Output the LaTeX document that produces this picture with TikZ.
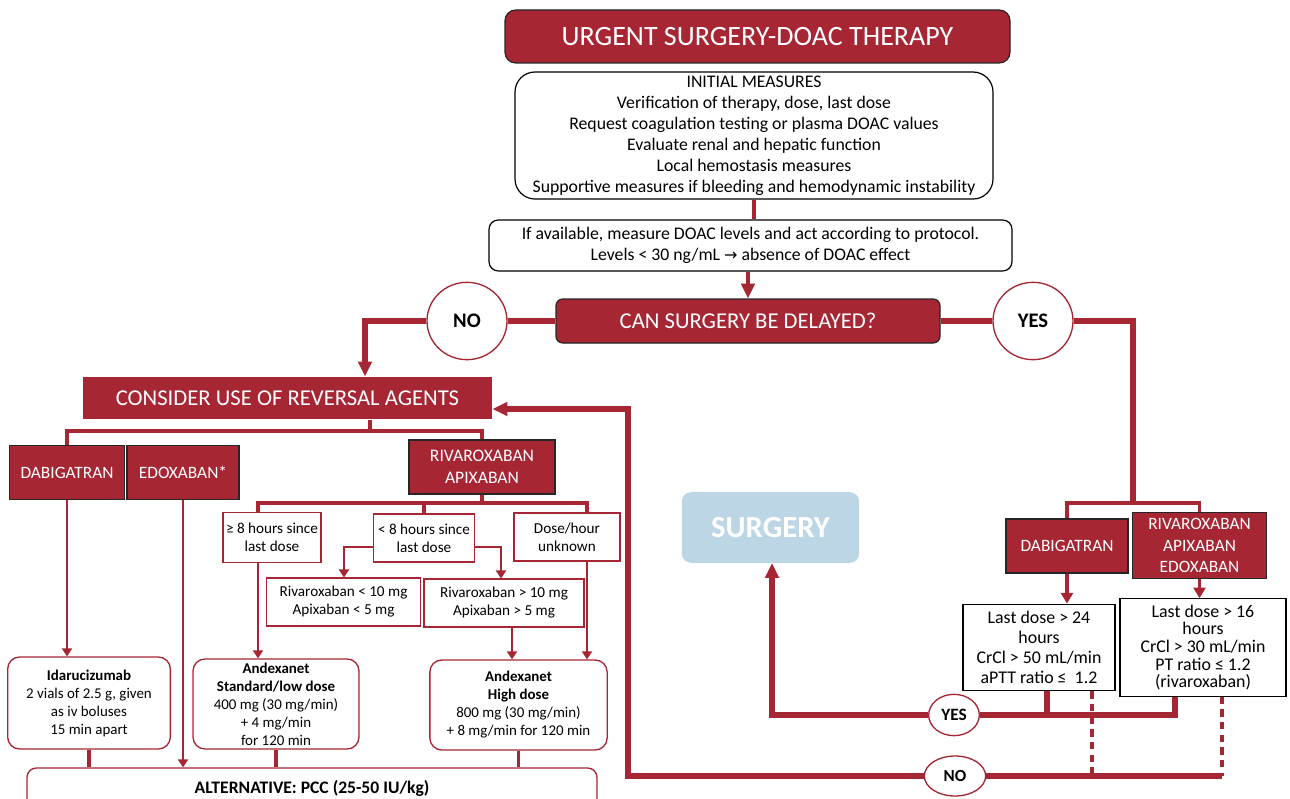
\documentclass[tikz,border=0pt]{standalone}
\usepackage{fontspec}
\setmainfont{Carlito}
\newfontfamily\symfont{DejaVu Sans}
\usetikzlibrary{arrows.meta,shapes.geometric}
\definecolor{wine}{RGB}{166,38,52}
\definecolor{paleblue}{RGB}{189,214,230}
\tikzset{
    redbox/.style={rectangle, draw=black!85, line width=0.9pt, fill=wine, text=white,
      align=center, inner sep=0pt},
    whitebox/.style={rectangle, draw=black, line width=0.9pt, fill=white, align=center,
      inner sep=0pt},
    smallbox/.style={rectangle, draw=wine, line width=0.8pt, fill=white, align=center,
      inner sep=0pt, font=\fontsize{11.4}{13.5}\selectfont},
    dosebox/.style={smallbox, rounded corners=9pt, line width=1pt,
      font=\fontsize{11.2}{13.5}\selectfont},
    answer/.style={ellipse, draw=wine, line width=1pt, fill=white, inner sep=0pt},
    bigline/.style={draw=wine, line width=4pt},
    branch/.style={draw=wine, line width=2.7pt},
    pointer/.style={draw=wine, line width=1.9pt, -{Triangle[length=6pt,width=7.5pt]}},
    dotline/.style={draw=wine, line width=3.6pt, dash pattern=on 5.5pt off 4pt},
}
\begin{document}
\begin{tikzpicture}[x=0.75pt,y=-0.75pt]
\useasboundingbox (0,0) rectangle (1290,799);
% top part
\node[redbox, rounded corners=8pt, minimum width=378.75, minimum height=39.75,
    font=\fontsize{21}{24}\selectfont] (title) at (757.5,36.5) {URGENT SURGERY-DOAC THERAPY};
\node[whitebox, rounded corners=15pt, minimum width=358.5, minimum height=95.25,
    font=\fontsize{13.3}{15.8}\selectfont] (initial) at (754,135.5)
    {INITIAL MEASURES\\Verification of therapy, dose, last dose\\Request coagulation testing or plasma DOAC values\\Evaluate renal and hepatic function\\Local hemostasis measures\\Supportive measures if bleeding and hemodynamic instability};
\node[whitebox, rounded corners=7pt, minimum width=392.25, minimum height=38.25,
    font=\fontsize{13.3}{15.8}\selectfont] (measure) at (750.5,245.5)
    {If available, measure DOAC levels and act according to protocol.\\Levels < 30 ng/mL {\symfont\fontsize{12}{12}\selectfont →} absence of DOAC effect};
\node[redbox, rounded corners=5pt, minimum width=288, minimum height=33,
    font=\fontsize{17}{20}\selectfont] (delay) at (748,321) {CAN SURGERY BE DELAYED?};
\node[answer, minimum width=60, minimum height=58, font=\bfseries\fontsize{15.5}{18}\selectfont]
    (noA) at (467,321) {NO};
\node[answer, minimum width=60, minimum height=58, font=\bfseries\fontsize{15.5}{18}\selectfont]
    (yesA) at (1033,321) {YES};

% reversal agents
\node[redbox, draw=none, minimum width=306.75, minimum height=31.5,
    font=\fontsize{17}{20}\selectfont] (consider) at (287.5,398) {CONSIDER USE OF REVERSAL AGENTS};
\node[redbox, minimum width=86, minimum height=41, font=\fontsize{13}{16}\selectfont]
    (dabL) at (67,472.5) {DABIGATRAN};
\node[redbox, minimum width=84, minimum height=41, font=\fontsize{13}{16}\selectfont]
    (edoL) at (183,472.5) {EDOXABAN*};
\node[redbox, minimum width=109.5, minimum height=40.5, font=\fontsize{13.2}{16.3}\selectfont]
    (rivL) at (482,467) {RIVAROXABAN\\APIXABAN};
\node[smallbox, minimum width=73.5, minimum height=37] (ge8) at (272,537.5) {≥ 8 hours since\\last dose};
\node[smallbox, minimum width=76, minimum height=36] (lt8) at (424,538) {< 8 hours since\\last dose};
\node[smallbox, minimum width=79.5, minimum height=36] (unk) at (567,537) {Dose/hour\\unknown};
\node[smallbox, minimum width=116, minimum height=36] (rivlo) at (343.5,602) {Rivaroxaban < 10 mg\\Apixaban < 5 mg};
\node[smallbox, minimum width=120, minimum height=36] (rivhi) at (504,603) {Rivaroxaban > 10 mg\\Apixaban > 5 mg};
\node[dosebox, minimum width=122, minimum height=69] (ida) at (89,703)
    {\textbf{Idarucizumab}\\2 vials of 2.5 g, given\\as iv boluses\\15 min apart};
\node[dosebox, minimum width=124.5, minimum height=67.5] (andstd) at (276,704)
    {\textbf{Andexanet}\\\textbf{Standard/low dose}\\400 mg (30 mg/min)\\+ 4 mg/min\\for 120 min};
\node[dosebox, minimum width=133, minimum height=67.5] (andhi) at (518.5,705)
    {\textbf{Andexanet}\\\textbf{High dose}\\800 mg (30 mg/min)\\+ 8 mg/min for 120 min};
\node[dosebox, rounded corners=7pt, minimum width=427.5, minimum height=30,
    font=\bfseries\fontsize{13.2}{16}\selectfont] (alt) at (312,788) {ALTERNATIVE: PCC (25-50 IU/kg)};

% delayed surgery
\node[rectangle, rounded corners=7pt, fill=paleblue, text=white, minimum width=133,
    minimum height=53, font=\bfseries\fontsize{23}{26}\selectfont] (surgery) at (770.5,527.5) {SURGERY};
\node[redbox, minimum width=91.5, minimum height=40.5, font=\fontsize{13}{16}\selectfont]
    (dabR) at (1067,546) {DABIGATRAN};
\node[redbox, minimum width=101, minimum height=49, font=\fontsize{13}{16.3}\selectfont]
    (rivR) at (1199.5,545.5) {RIVAROXABAN\\APIXABAN\\EDOXABAN};
\node[whitebox, minimum width=114, minimum height=65, font=\fontsize{13.4}{15}\selectfont]
    (critD) at (1039,647.5) {Last dose > 24\\hours\\CrCl > 50 mL/min\\aPTT ratio ≤~ 1.2};
\node[whitebox, minimum width=124.5, minimum height=73, font=\fontsize{13.4}{13.3}\selectfont]
    (critR) at (1203,647.5) {Last dose > 16\\hours\\CrCl > 30 mL/min\\PT ratio ≤ 1.2\\(rivaroxaban)};
\node[answer, minimum width=38, minimum height=31, font=\bfseries\fontsize{13}{15}\selectfont]
    (yesB) at (954,715) {YES};
\node[answer, minimum width=46, minimum height=30, font=\bfseries\fontsize{12.7}{15}\selectfont]
    (noB) at (955,776) {NO};

% bend points
\coordinate (kNo) at (365,321);
\coordinate (kYes) at (1133,503);
\coordinate (kRev) at (370,431);
\coordinate (kGe) at (258,503);
\coordinate (kUnk) at (587,503);
\coordinate (kLo) at (344,547);
\coordinate (kHi) at (501,547);
\coordinate (kHd) at (512,640);
\coordinate (kBack) at (628,409);
\coordinate (kNoD) at (1092,776);
\coordinate (kNoR) at (1222,776);
\coordinate (kYesD) at (1047,715);
\coordinate (kYesR) at (1175,715);
\coordinate (kSurg) at (772,715);

% connectors
\draw[branch] (initial.south) -- (initial.south |- measure.north);
\draw[branch, -{Triangle[length=11pt,width=10pt]}] (measure.south -| delay.north) -- (delay.north);
\draw[bigline] (delay.west) -- (noA.east);
\draw[bigline] (delay.east) -- (yesA.west);
\draw[bigline, -{Triangle[length=11pt,width=10pt]}] (noA.west) -- (kNo) -- (kNo |- consider.north);
\draw[bigline] (yesA.east) -| (kYes);
\draw[branch] (dabR.north) |- (kYes) -| (rivR.north);

\draw[branch] (consider.south -| kRev) -- (kRev);
\draw[branch] (dabL.north) |- (kRev) -| (rivL.north);
\draw[branch] (rivL.south) -- (rivL.south |- kGe);
\draw[branch] (kGe |- ge8.north) -- (kGe) -- (kUnk) -- (kUnk |- unk.north);
\draw[branch] (lt8.north) -- (lt8.north |- kGe);
\draw[pointer] (lt8.west |- kLo) -- (kLo) -- (kLo |- rivlo.north);
\draw[pointer] (lt8.east |- kHi) -- (kHi) -- (kHi |- rivhi.north);
\draw[pointer] (kGe |- ge8.south) -- (kGe |- andstd.north);
\draw[pointer] (kHd |- rivhi.south) -- (kHd |- andhi.north);
\draw[pointer] (kUnk |- unk.south) -- (kUnk |- andhi.north);
\draw[pointer] (dabL.south) -- (dabL.south |- ida.north);
\draw[pointer] (edoL.south) -- (edoL.south |- alt.north);
\draw[branch] (ida.south) -- (ida.south |- alt.north);
\draw[branch] (andstd.south) -- (andstd.south |- alt.north);
\draw[branch] (andhi.south) -- (andhi.south |- alt.north);

\draw[pointer, line width=2.7pt, -{Triangle[length=8pt,width=9pt]}] (dabR.south) -- (dabR.south |- critD.north);
\draw[pointer, line width=2.7pt, -{Triangle[length=8pt,width=9pt]}] (rivR.south) -- (rivR.south |- critR.north);
\draw[bigline] (kYesR |- critR.south) -- (kYesR) -- (yesB.east);
\draw[bigline] (kYesD |- critD.south) -- (kYesD);
\draw[bigline, -{Triangle[length=11pt,width=10pt]}] (yesB.west) -- (kSurg) -- (kSurg |- surgery.south);
\draw[dotline] (kNoD |- critD.south) -- (kNoD);
\draw[dotline] (kNoR |- critR.south) -- (kNoR);
\draw[bigline] (kNoR) -- (noB.east);
\draw[bigline, -{Triangle[length=11pt,width=10pt]}] (noB.west) -| (kBack) -- (consider.east |- kBack);
\end{tikzpicture}
\end{document}
